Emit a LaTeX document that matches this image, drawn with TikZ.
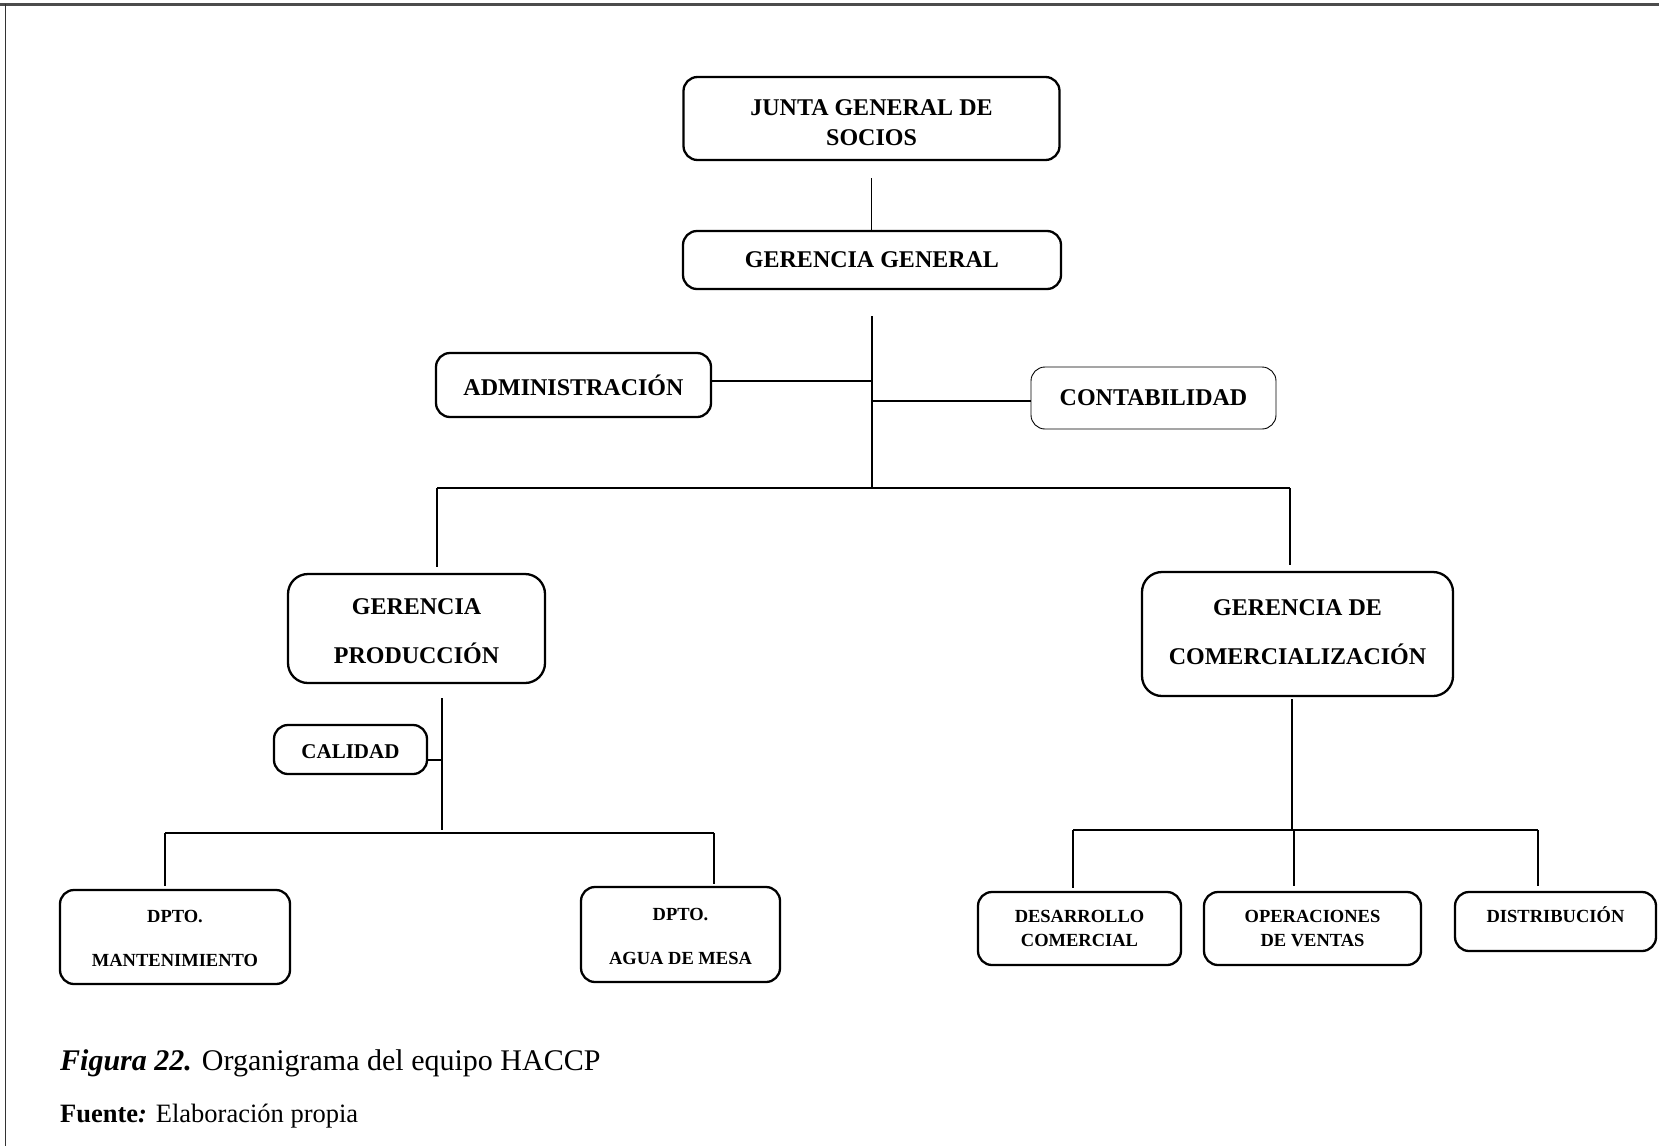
\documentclass[tikz,border=0pt]{standalone}
\usepackage{fontspec}
\setmainfont{Liberation Serif}
% box text: raised by #1 with its last baseline at the node centre, width #2
\newcommand{\unittext}[3]{\raisebox{#1}[0pt][0pt]{\parbox[b]{#2}{\centering #3}}}
\begin{document}
\begin{tikzpicture}[x=1pt,y=-1pt,
  unit/.style={draw=black, line width=2.3pt, rounded corners=14pt, inner sep=0pt,
    align=center, font=\bfseries\fontsize{24}{30}\selectfont},
  thinunit/.style={unit, line width=0.9pt},
  bigunit/.style={unit, rounded corners=20pt, font=\bfseries\fontsize{24}{49.7}\selectfont},
  dptunit/.style={unit, font=\bfseries\fontsize{18.5}{44.4}\selectfont},
  subunit/.style={unit, font=\bfseries\fontsize{18.5}{24.4}\selectfont},
  link/.style={draw=black, line width=1.3pt},
  caption/.style={anchor=west, inner sep=0pt}]

\useasboundingbox (0,0) rectangle (1659,1146);

% frame lines
\draw[line width=2.5pt, black!70] (0,4.5) -- (1659,4.5);
\draw[line width=1.2pt, black!80] (5.5,4) -- (5.5,1146);

% units
\node[unit, minimum width=376pt, minimum height=83pt] (junta) at (871.5,118.5)
  {\unittext{-27.4pt}{370pt}{JUNTA GENERAL DE\\ SOCIOS}};
\node[unit, minimum width=378pt, minimum height=58pt] (gg) at (872,260) {GERENCIA GENERAL};
\node[unit, minimum width=275pt, minimum height=64pt] (adm) at (573.5,385) {ADMINISTRACIÓN};
\node[thinunit, minimum width=245pt, minimum height=62pt] (cont) at (1153.5,398) {CONTABILIDAD};
\node[bigunit, minimum width=257pt, minimum height=109pt] (gp) at (416.5,628.5)
  {\unittext{-35.4pt}{250pt}{GERENCIA\\ PRODUCCIÓN}};
\node[bigunit, minimum width=311pt, minimum height=124pt] (gc) at (1297.5,634)
  {\unittext{-30.9pt}{300pt}{GERENCIA DE\\ COMERCIALIZACIÓN}};
\node[unit, font=\bfseries\fontsize{21}{25}\selectfont, minimum width=153pt, minimum height=49pt] (cal) at (350.5,749.5)
  {\unittext{-9.4pt}{150pt}{CALIDAD}};
\node[dptunit, minimum width=230pt, minimum height=94pt] (mant) at (175,937)
  {\unittext{-29.8pt}{225pt}{DPTO.\\ MANTENIMIENTO}};
\node[dptunit, minimum width=199pt, minimum height=95pt] (agua) at (680.5,934.5)
  {\unittext{-30.2pt}{195pt}{DPTO.\\ AGUA DE MESA}};
\node[subunit, minimum width=203pt, minimum height=73pt] (des) at (1079.5,928.5)
  {\unittext{-18.2pt}{200pt}{DESARROLLO\\ COMERCIAL}};
\node[subunit, minimum width=217pt, minimum height=73pt] (ope) at (1312.5,928.5)
  {\unittext{-18.2pt}{210pt}{OPERACIONES\\ DE VENTAS}};
\node[subunit, minimum width=201pt, minimum height=59pt] (dis) at (1555.5,921.5)
  {\unittext{-0.7pt}{195pt}{DISTRIBUCIÓN}};

% junction points
\coordinate (t1) at (872,488);
\coordinate (bl) at (437,488);
\coordinate (br) at (1290,488);
\coordinate (pt) at (442,830);
\coordinate (pl) at (165,833);
\coordinate (pr) at (714,833);
\coordinate (ct) at (1292,830);
\coordinate (cl) at (1073,830);
\coordinate (cm) at (1294,830);
\coordinate (cr) at (1538,830);

% upper links
\draw[link] ([yshift=-17pt]junta.south) -- (junta.south |- gg.north);
\path[link] (gg.south) ++(0,26) -- (t1);
\draw[link] ([yshift=4pt]adm.east) -- ([yshift=4pt]adm.east -| t1);
\draw[link] ([yshift=-3pt]cont.west -| t1) -- ([yshift=-3pt]cont.west);
\draw[link] (bl) -- (br);
\draw[link, shorten >=6pt] (bl) -- (bl |- gp.north);
\draw[link, shorten >=6pt] (br) -- (br |- gc.north);

% production branch
\path[link] (gp.south -| pt) ++(0,14) -- (pt);
\draw[link] ([yshift=-10.5pt]cal.east) -- ([yshift=-10.5pt]cal.east -| pt);
\draw[link] (pl) -- (pr);
\draw[link, shorten >=3pt] (pl) -- (pl |- mant.north);
\draw[link, shorten >=2pt] (pr) -- (pr |- agua.north);

% commercial branch
\path[link] (gc.south -| ct) ++(0,2) -- (ct);
\draw[link] (cl) -- (cr);
\draw[link, shorten >=3pt] (cl) -- (cl |- des.north);
\draw[link, shorten >=5pt] (cm) -- (cm |- ope.north);
\draw[link, shorten >=5pt] (cr) -- (cr |- dis.north);

% caption
\node[caption, font=\fontsize{30}{36}\selectfont] (fig) at (60,1063)
  {\textbf{\textit{Figura 22.}} Organigrama del equipo HACCP};
\node[caption, font=\fontsize{26.5}{32}\selectfont] (src) at (60,1116)
  {\textbf{Fuente}\textbf{\textit{:}} Elaboración propia};
\end{tikzpicture}
\end{document}
